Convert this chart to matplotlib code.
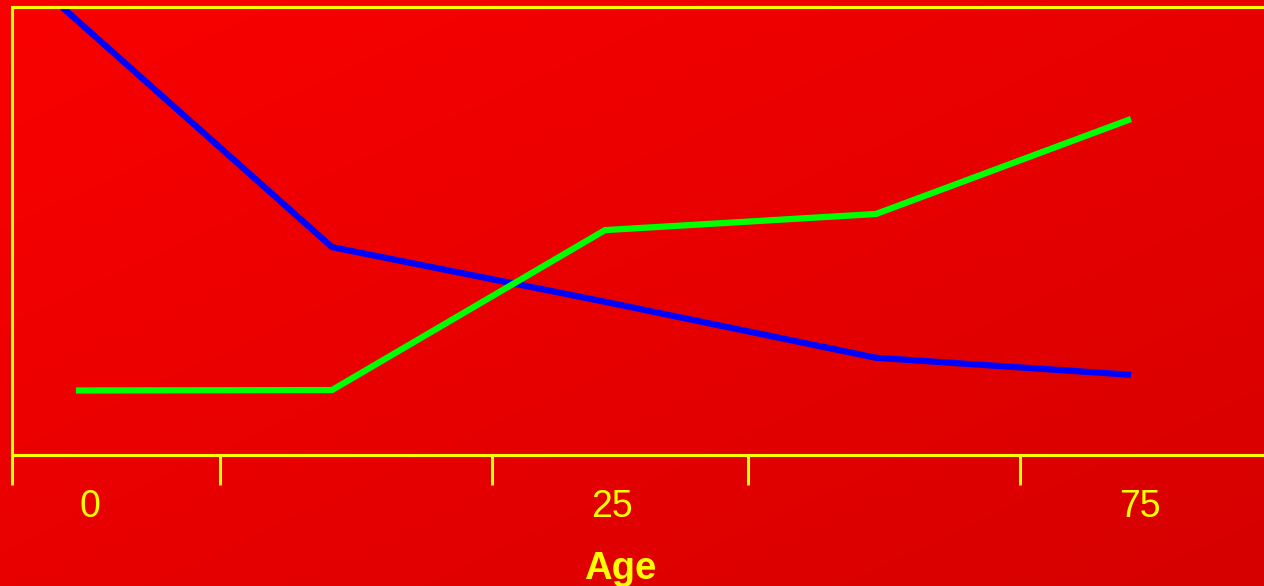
import numpy as np
import matplotlib
matplotlib.use("Agg")
import matplotlib.pyplot as plt
import matplotlib.transforms as mtransforms

# ---- data ----
blue_x = [62, 332, 605, 876, 1131]
blue_y = [100.0, 46.4, 34.2, 21.7, 17.9]
green_x = [76, 332, 605, 876, 1131]
green_y = [14.4, 14.5, 50.2, 53.8, 75.0]
tick_positions = [12, 220, 492, 748, 1020]
label_positions = [90, 612, 1140]
label_texts = ["0", "25", "75"]
xlabel = "Age"

W, H = 1264, 586
fig = plt.figure(figsize=(W / 100, H / 100), dpi=100)

# background gradient
bg = fig.add_axes([0, 0, 1, 1], zorder=0)
yy, xx = np.mgrid[0:1:200j, 0:1:200j]
t = (xx + yy) / 2.0
c0 = np.array([250, 0, 0]) / 255
c1 = np.array([214, 0, 0]) / 255
img = c0[None, None, :] * (1 - t[..., None]) + c1[None, None, :] * t[..., None]
bg.imshow(img, extent=[0, 1, 0, 1], aspect='auto', origin='upper')
bg.axis('off')

left = 12 / W
bottom = (H - 455) / H
top = (H - 7) / H
ax = fig.add_axes([left, bottom, 1 - left, top - bottom], zorder=1)
ax.set_facecolor('none')

lw = 4.5
ax.plot(blue_x, blue_y, color='#0000FF', lw=lw, solid_joinstyle='miter', solid_capstyle='butt')
ax.plot(green_x, green_y, color='#00FF00', lw=lw, solid_joinstyle='miter', solid_capstyle='butt')

ax.set_xlim(12, W)
ax.set_ylim(0, 100)

yellow = '#FFFF00'
for s in ['left', 'top', 'bottom']:
    ax.spines[s].set_color(yellow)
    ax.spines[s].set_linewidth(2.2)
ax.spines['right'].set_visible(False)

ax.set_yticks([])
ax.set_xticks(tick_positions)
ax.set_xticklabels([])
ax.tick_params(axis='x', direction='out', length=21.6, width=2.2, color=yellow)

trans = mtransforms.blended_transform_factory(ax.transData, ax.transAxes)
for xp, txt in zip(label_positions, label_texts):
    ax.text(xp, (455 - 517) / 448, txt, transform=trans, ha='center', va='baseline',
            color=yellow, fontsize=27, family='Liberation Sans')

ax.text(620, (455 - 579) / 448, xlabel, transform=trans, ha='center', va='baseline',
        color=yellow, fontsize=27.5, fontweight='bold', family='Liberation Sans')

fig.savefig('out.png', dpi=100)
